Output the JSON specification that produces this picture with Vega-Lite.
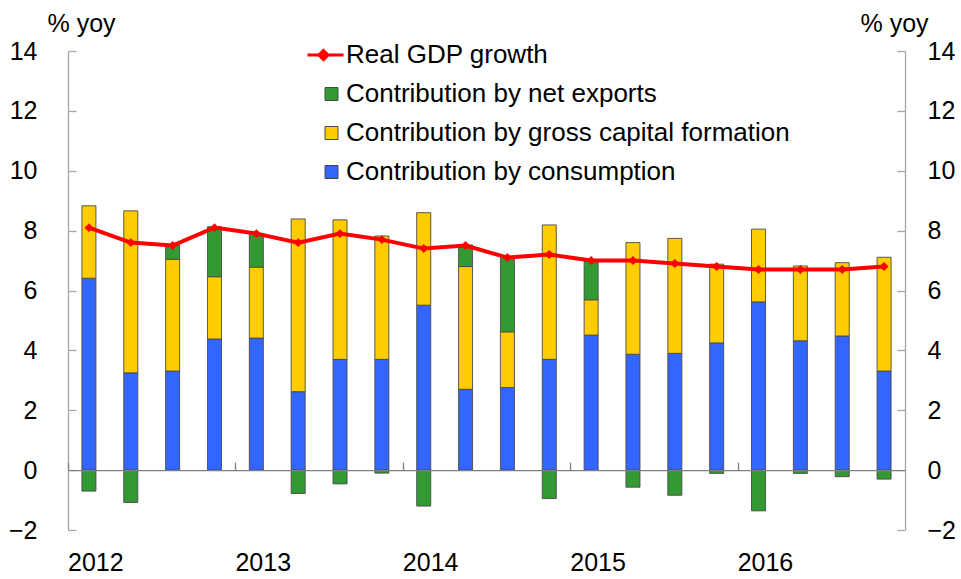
{
  "$schema": "https://vega.github.io/schema/vega-lite/v6.json",
  "width": 837,
  "height": 479,
  "autosize": {"type": "none"},
  "padding": {"left": 68, "top": 51, "right": 56, "bottom": 49},
  "config": {
    "font": "Liberation Sans",
    "view": {"stroke": null},
    "axis": {"grid": false, "labelFont": "Liberation Sans", "titleFont": "Liberation Sans", "labelColor": "#000000", "titleColor": "#000000", "domainColor": "#a6a6a6", "tickColor": "#a6a6a6", "labelFontSize": 25, "titleFontSize": 25, "titleFontWeight": "normal", "domainWidth": 1.3, "tickWidth": 1.3},
    "legend": {"orient": "none", "legendX": 250.5, "title": null, "padding": 0, "labelFont": "Liberation Sans", "labelFontSize": 26, "labelColor": "#000000", "symbolSize": 169, "labelOffset": 1.5, "rowPadding": 13, "labelLimit": 600}
  },
  "data": {"values": [
    {"q": "2012Q1", "s": "Contribution by consumption", "v": 6.41},
    {"q": "2012Q1", "s": "Contribution by gross capital formation", "v": 2.42},
    {"q": "2012Q1", "s": "Contribution by net exports", "v": -0.70},
    {"q": "2012Q1", "s": "Real GDP growth", "v": 8.1},
    {"q": "2012Q2", "s": "Contribution by consumption", "v": 3.25},
    {"q": "2012Q2", "s": "Contribution by gross capital formation", "v": 5.41},
    {"q": "2012Q2", "s": "Contribution by net exports", "v": -1.08},
    {"q": "2012Q2", "s": "Real GDP growth", "v": 7.6},
    {"q": "2012Q3", "s": "Contribution by consumption", "v": 3.31},
    {"q": "2012Q3", "s": "Contribution by gross capital formation", "v": 3.73},
    {"q": "2012Q3", "s": "Contribution by net exports", "v": 0.48},
    {"q": "2012Q3", "s": "Real GDP growth", "v": 7.5},
    {"q": "2012Q4", "s": "Contribution by consumption", "v": 4.38},
    {"q": "2012Q4", "s": "Contribution by gross capital formation", "v": 2.08},
    {"q": "2012Q4", "s": "Contribution by net exports", "v": 1.67},
    {"q": "2012Q4", "s": "Real GDP growth", "v": 8.1},
    {"q": "2013Q1", "s": "Contribution by consumption", "v": 4.41},
    {"q": "2013Q1", "s": "Contribution by gross capital formation", "v": 2.37},
    {"q": "2013Q1", "s": "Contribution by net exports", "v": 1.13},
    {"q": "2013Q1", "s": "Real GDP growth", "v": 7.9},
    {"q": "2013Q2", "s": "Contribution by consumption", "v": 2.62},
    {"q": "2013Q2", "s": "Contribution by gross capital formation", "v": 5.77},
    {"q": "2013Q2", "s": "Contribution by net exports", "v": -0.78},
    {"q": "2013Q2", "s": "Real GDP growth", "v": 7.6},
    {"q": "2013Q3", "s": "Contribution by consumption", "v": 3.70},
    {"q": "2013Q3", "s": "Contribution by gross capital formation", "v": 4.66},
    {"q": "2013Q3", "s": "Contribution by net exports", "v": -0.46},
    {"q": "2013Q3", "s": "Real GDP growth", "v": 7.9},
    {"q": "2013Q4", "s": "Contribution by consumption", "v": 3.70},
    {"q": "2013Q4", "s": "Contribution by gross capital formation", "v": 4.12},
    {"q": "2013Q4", "s": "Contribution by net exports", "v": -0.10},
    {"q": "2013Q4", "s": "Real GDP growth", "v": 7.7},
    {"q": "2014Q1", "s": "Contribution by consumption", "v": 5.51},
    {"q": "2014Q1", "s": "Contribution by gross capital formation", "v": 3.09},
    {"q": "2014Q1", "s": "Contribution by net exports", "v": -1.20},
    {"q": "2014Q1", "s": "Real GDP growth", "v": 7.4},
    {"q": "2014Q2", "s": "Contribution by consumption", "v": 2.70},
    {"q": "2014Q2", "s": "Contribution by gross capital formation", "v": 4.10},
    {"q": "2014Q2", "s": "Contribution by net exports", "v": 0.72},
    {"q": "2014Q2", "s": "Real GDP growth", "v": 7.5},
    {"q": "2014Q3", "s": "Contribution by consumption", "v": 2.76},
    {"q": "2014Q3", "s": "Contribution by gross capital formation", "v": 1.86},
    {"q": "2014Q3", "s": "Contribution by net exports", "v": 2.51},
    {"q": "2014Q3", "s": "Real GDP growth", "v": 7.1},
    {"q": "2014Q4", "s": "Contribution by consumption", "v": 3.70},
    {"q": "2014Q4", "s": "Contribution by gross capital formation", "v": 4.49},
    {"q": "2014Q4", "s": "Contribution by net exports", "v": -0.95},
    {"q": "2014Q4", "s": "Real GDP growth", "v": 7.2},
    {"q": "2015Q1", "s": "Contribution by consumption", "v": 4.51},
    {"q": "2015Q1", "s": "Contribution by gross capital formation", "v": 1.18},
    {"q": "2015Q1", "s": "Contribution by net exports", "v": 1.30},
    {"q": "2015Q1", "s": "Real GDP growth", "v": 7.0},
    {"q": "2015Q2", "s": "Contribution by consumption", "v": 3.87},
    {"q": "2015Q2", "s": "Contribution by gross capital formation", "v": 3.73},
    {"q": "2015Q2", "s": "Contribution by net exports", "v": -0.57},
    {"q": "2015Q2", "s": "Real GDP growth", "v": 7.0},
    {"q": "2015Q3", "s": "Contribution by consumption", "v": 3.90},
    {"q": "2015Q3", "s": "Contribution by gross capital formation", "v": 3.84},
    {"q": "2015Q3", "s": "Contribution by net exports", "v": -0.84},
    {"q": "2015Q3", "s": "Real GDP growth", "v": 6.9},
    {"q": "2015Q4", "s": "Contribution by consumption", "v": 4.25},
    {"q": "2015Q4", "s": "Contribution by gross capital formation", "v": 2.63},
    {"q": "2015Q4", "s": "Contribution by net exports", "v": -0.11},
    {"q": "2015Q4", "s": "Real GDP growth", "v": 6.8},
    {"q": "2016Q1", "s": "Contribution by consumption", "v": 5.62},
    {"q": "2016Q1", "s": "Contribution by gross capital formation", "v": 2.43},
    {"q": "2016Q1", "s": "Contribution by net exports", "v": -1.36},
    {"q": "2016Q1", "s": "Real GDP growth", "v": 6.7},
    {"q": "2016Q2", "s": "Contribution by consumption", "v": 4.32},
    {"q": "2016Q2", "s": "Contribution by gross capital formation", "v": 2.50},
    {"q": "2016Q2", "s": "Contribution by net exports", "v": -0.11},
    {"q": "2016Q2", "s": "Real GDP growth", "v": 6.7},
    {"q": "2016Q3", "s": "Contribution by consumption", "v": 4.48},
    {"q": "2016Q3", "s": "Contribution by gross capital formation", "v": 2.45},
    {"q": "2016Q3", "s": "Contribution by net exports", "v": -0.22},
    {"q": "2016Q3", "s": "Real GDP growth", "v": 6.7},
    {"q": "2016Q4", "s": "Contribution by consumption", "v": 3.31},
    {"q": "2016Q4", "s": "Contribution by gross capital formation", "v": 3.80},
    {"q": "2016Q4", "s": "Contribution by net exports", "v": -0.30},
    {"q": "2016Q4", "s": "Real GDP growth", "v": 6.8}
  ]},
  "layer": [
    {
      "transform": [{"filter": "datum.s !== 'Real GDP growth'"}],
      "mark": {"type": "bar", "stroke": "#4a4a4a", "strokeWidth": 0.9},
      "encoding": {
        "x": {"field": "q", "type": "ordinal", "sort": null,
          "scale": {"paddingInner": 0.665, "paddingOuter": 0.3325},
          "axis": {"title": null, "values": ["2012Q1", "2013Q1", "2014Q1", "2015Q1", "2016Q1"], "labelExpr": "slice(datum.value, 0, 4)", "domain": false, "ticks": false, "labelAngle": 0, "labelAlign": "left", "labelOffset": -20.9, "labelPadding": 20, "labelFontSize": 25}},
        "y": {"field": "v", "type": "quantitative", "scale": {"domain": [-2, 14], "nice": false},
          "axis": {"orient": "left", "values": [-2, 0, 2, 4, 6, 8, 10, 12, 14], "tickSize": -8, "labelPadding": 39, "title": "% yoy", "titleAngle": 0, "titleAlign": "left", "titleBaseline": "alphabetic", "titleX": -21, "titleY": -20}},
        "fill": {"field": "s", "type": "nominal",
          "scale": {"domain": ["Contribution by net exports", "Contribution by gross capital formation", "Contribution by consumption"], "range": ["#339933", "#ffcc00", "#3366ff"]},
          "legend": {"legendY": 30, "symbolType": "square", "symbolStrokeColor": "#4a4a4a", "symbolStrokeWidth": 1}},
        "order": {"field": "s", "sort": "ascending"}
      }
    },
    {
      "transform": [{"filter": "datum.s === 'Real GDP growth'"}],
      "mark": {"type": "line", "strokeWidth": 4},
      "encoding": {
        "x": {"field": "q", "type": "ordinal", "sort": null,
          "axis": {"title": null, "orient": "bottom", "offset": -59.9, "values": ["2012Q1", "2013Q1", "2014Q1", "2015Q1", "2016Q1"], "labels": false, "domain": true, "domainColor": "#808080", "ticks": true, "tickSize": -8, "tickOffset": -20.9, "tickColor": "#808080", "zindex": 1}},
        "y": {"field": "v", "type": "quantitative", "scale": {"domain": [-2, 14], "nice": false},
          "axis": {"orient": "right", "values": [-2, 0, 2, 4, 6, 8, 10, 12, 14], "tickSize": -8, "labelPadding": 30, "title": "% yoy", "titleAngle": 0, "titleAlign": "left", "titleBaseline": "alphabetic", "titleX": -45, "titleY": -20}},
        "stroke": {"field": "s", "type": "nominal",
          "scale": {"domain": ["Real GDP growth"], "range": ["#ff0000"]},
          "legend": {"legendY": -9, "symbolType": "M-3.7,0L1.85,0M-1.23,-0.7L-0.53,0L-1.23,0.7L-1.93,0Z", "symbolFillColor": "#ff0000", "symbolStrokeWidth": 3}}
      }
    },
    {
      "transform": [{"filter": "datum.s === 'Real GDP growth'"}],
      "mark": {"type": "point", "shape": "diamond", "filled": true, "size": 80, "color": "#ff0000", "opacity": 1},
      "encoding": {
        "x": {"field": "q", "type": "ordinal", "sort": null, "axis": null},
        "y": {"field": "v", "type": "quantitative", "scale": {"domain": [-2, 14], "nice": false}, "axis": null}
      }
    }
  ],
  "resolve": {"scale": {"y": "independent"}, "axis": {"x": "independent"}}
}
